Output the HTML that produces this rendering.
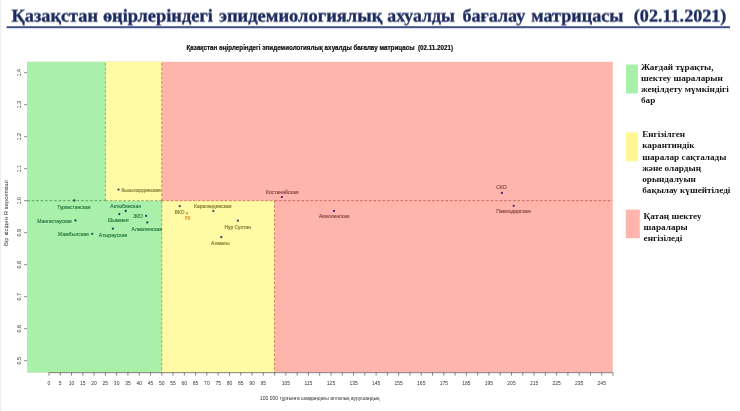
<!DOCTYPE html>
<html lang="kk"><head><meta charset="utf-8"><title>Матрица</title>
<style>
html,body{margin:0;padding:0;background:#fff;}
body{width:740px;height:411px;overflow:hidden;position:relative;font-family:"Liberation Sans",sans-serif;}
svg{position:absolute;left:0;top:0;display:block;filter:blur(0.35px)}
.ttl{font-family:"Liberation Serif",serif;font-weight:bold;font-size:17.9px;text-rendering:geometricPrecision;fill:#1b2a5e;stroke:#1b2a5e;stroke-width:0.35px}
.sub{font-family:"Liberation Sans",sans-serif;font-weight:bold;font-size:6.3px;fill:#0c0c0c;stroke:#0c0c0c;stroke-width:0.18px}
.lg{font-family:"Liberation Serif",serif;font-weight:bold;font-size:9.2px;fill:#151515}
.ax{font-family:"Liberation Sans",sans-serif;font-size:5px;fill:#333}
.lb{font-family:"Liberation Sans",sans-serif;font-size:5px;fill:rgba(40,40,40,0.62);stroke-width:0.18px}
.tk{stroke:#555;stroke-width:0.7;fill:none}
.ds{stroke:rgba(140,50,10,0.55);stroke-width:1;stroke-dasharray:2.6 1.9;fill:none}
</style></head><body>
<svg width="740" height="411" viewBox="0 0 740 411">
<rect x="0" y="0" width="740" height="411" fill="#ffffff"/>
<rect x="0" y="0" width="1.2" height="411" fill="#eef0f4"/>
<filter id="sh" x="-1%" y="-40%" width="102%" height="180%"><feConvolveMatrix order="1 3" kernelMatrix="0 0.45 0.55" divisor="1" edgeMode="none" preserveAlpha="false"/></filter>
<text class="ttl" y="21.0" filter="url(#sh)"><tspan x="11.6" textLength="86.4" lengthAdjust="spacingAndGlyphs">Қазақстан</tspan> <tspan x="102.9" textLength="110.0" lengthAdjust="spacingAndGlyphs">өңірлеріндегі</tspan> <tspan x="218.9" textLength="163.5" lengthAdjust="spacingAndGlyphs">эпидемиологиялық</tspan> <tspan x="387.3" textLength="67.5" lengthAdjust="spacingAndGlyphs">ахуалды</tspan> <tspan x="462.4" textLength="62.9" lengthAdjust="spacingAndGlyphs">бағалау</tspan> <tspan x="531.3" textLength="92.1" lengthAdjust="spacingAndGlyphs">матрицасы</tspan> <tspan x="633.8" textLength="92.6" lengthAdjust="spacingAndGlyphs">(02.11.2021)</tspan></text>
<rect x="6.6" y="26.2" width="723.4" height="2" fill="#3f5288"/>
<text class="sub" transform="translate(186.5 49.6) scale(1 1.07)" textLength="266.5" lengthAdjust="spacingAndGlyphs" xml:space="preserve">Қазақстан өңірлеріндегі эпидемиологиялық ахуалды бағалау матрицасы  (02.11.2021)</text>
<rect x="27.1" y="61.8" width="585.60" height="310.70" fill="#ffb4ac"/>
<rect x="27.1" y="61.8" width="134.66" height="310.70" fill="#a9f1ab"/>
<rect x="105.36" y="61.8" width="56.41" height="138.90" fill="#fffaa4"/>
<rect x="161.76" y="200.7" width="112.81" height="171.80" fill="#fffaa4"/>
<line class="ds" style="stroke:#58a35e" x1="27.10" y1="200.70" x2="105.36" y2="200.70"/>
<line class="ds" style="stroke:#a0a660" x1="105.36" y1="200.70" x2="161.76" y2="200.70"/>
<line class="ds" style="stroke:#d27c62" x1="161.76" y1="200.70" x2="274.58" y2="200.70"/>
<line class="ds" style="stroke:#cb6a5f" x1="274.58" y1="200.70" x2="612.70" y2="200.70"/>
<line class="ds" style="stroke:#a0a660" x1="105.36" y1="200.70" x2="105.36" y2="61.80"/>
<line class="ds" style="stroke:#d27c62" x1="161.76" y1="200.70" x2="161.76" y2="61.80"/>
<line class="ds" style="stroke:#a0a660" x1="161.76" y1="200.70" x2="161.76" y2="372.50"/>
<line class="ds" style="stroke:#d27c62" x1="274.58" y1="200.70" x2="274.58" y2="372.50"/>
<line class="tk" x1="27.0" y1="72.70" x2="27.0" y2="360.70" stroke-opacity="0"/>
<line class="tk" x1="24.10" y1="360.70" x2="27.10" y2="360.70"/>
<text class="ax" text-anchor="middle" transform="translate(21.0 360.70) rotate(-90) scale(1.1 1)">0.5</text>
<line class="tk" x1="24.10" y1="328.70" x2="27.10" y2="328.70"/>
<text class="ax" text-anchor="middle" transform="translate(21.0 328.70) rotate(-90) scale(1.1 1)">0.6</text>
<line class="tk" x1="24.10" y1="296.70" x2="27.10" y2="296.70"/>
<text class="ax" text-anchor="middle" transform="translate(21.0 296.70) rotate(-90) scale(1.1 1)">0.7</text>
<line class="tk" x1="24.10" y1="264.70" x2="27.10" y2="264.70"/>
<text class="ax" text-anchor="middle" transform="translate(21.0 264.70) rotate(-90) scale(1.1 1)">0.8</text>
<line class="tk" x1="24.10" y1="232.70" x2="27.10" y2="232.70"/>
<text class="ax" text-anchor="middle" transform="translate(21.0 232.70) rotate(-90) scale(1.1 1)">0.9</text>
<line class="tk" x1="24.10" y1="200.70" x2="27.10" y2="200.70"/>
<text class="ax" text-anchor="middle" transform="translate(21.0 200.70) rotate(-90) scale(1.1 1)">1.0</text>
<line class="tk" x1="24.10" y1="168.70" x2="27.10" y2="168.70"/>
<text class="ax" text-anchor="middle" transform="translate(21.0 168.70) rotate(-90) scale(1.1 1)">1.1</text>
<line class="tk" x1="24.10" y1="136.70" x2="27.10" y2="136.70"/>
<text class="ax" text-anchor="middle" transform="translate(21.0 136.70) rotate(-90) scale(1.1 1)">1.2</text>
<line class="tk" x1="24.10" y1="104.70" x2="27.10" y2="104.70"/>
<text class="ax" text-anchor="middle" transform="translate(21.0 104.70) rotate(-90) scale(1.1 1)">1.3</text>
<line class="tk" x1="24.10" y1="72.70" x2="27.10" y2="72.70"/>
<text class="ax" text-anchor="middle" transform="translate(21.0 72.70) rotate(-90) scale(1.1 1)">1.4</text>
<text class="ax" style="font-size:5.6px" textLength="65.5" lengthAdjust="spacingAndGlyphs" transform="translate(7.9 246) rotate(-90)">Бір кісіден R көрсеткіші</text>
<line class="tk" x1="48.95" y1="372.7" x2="613.03" y2="372.7"/>
<line class="tk" x1="48.95" y1="372.5" x2="48.95" y2="375.7"/>
<line class="tk" x1="60.23" y1="372.5" x2="60.23" y2="375.7"/>
<line class="tk" x1="71.51" y1="372.5" x2="71.51" y2="375.7"/>
<line class="tk" x1="82.79" y1="372.5" x2="82.79" y2="375.7"/>
<line class="tk" x1="94.08" y1="372.5" x2="94.08" y2="375.7"/>
<line class="tk" x1="105.36" y1="372.5" x2="105.36" y2="375.7"/>
<line class="tk" x1="116.64" y1="372.5" x2="116.64" y2="375.7"/>
<line class="tk" x1="127.92" y1="372.5" x2="127.92" y2="375.7"/>
<line class="tk" x1="139.20" y1="372.5" x2="139.20" y2="375.7"/>
<line class="tk" x1="150.48" y1="372.5" x2="150.48" y2="375.7"/>
<line class="tk" x1="161.76" y1="372.5" x2="161.76" y2="375.7"/>
<line class="tk" x1="173.05" y1="372.5" x2="173.05" y2="375.7"/>
<line class="tk" x1="184.33" y1="372.5" x2="184.33" y2="375.7"/>
<line class="tk" x1="195.61" y1="372.5" x2="195.61" y2="375.7"/>
<line class="tk" x1="206.89" y1="372.5" x2="206.89" y2="375.7"/>
<line class="tk" x1="218.17" y1="372.5" x2="218.17" y2="375.7"/>
<line class="tk" x1="229.45" y1="372.5" x2="229.45" y2="375.7"/>
<line class="tk" x1="240.74" y1="372.5" x2="240.74" y2="375.7"/>
<line class="tk" x1="252.02" y1="372.5" x2="252.02" y2="375.7"/>
<line class="tk" x1="263.30" y1="372.5" x2="263.30" y2="375.7"/>
<line class="tk" x1="274.58" y1="372.5" x2="274.58" y2="375.7"/>
<line class="tk" x1="285.86" y1="372.5" x2="285.86" y2="375.7"/>
<line class="tk" x1="297.14" y1="372.5" x2="297.14" y2="375.7"/>
<line class="tk" x1="308.42" y1="372.5" x2="308.42" y2="375.7"/>
<line class="tk" x1="319.71" y1="372.5" x2="319.71" y2="375.7"/>
<line class="tk" x1="330.99" y1="372.5" x2="330.99" y2="375.7"/>
<line class="tk" x1="342.27" y1="372.5" x2="342.27" y2="375.7"/>
<line class="tk" x1="353.55" y1="372.5" x2="353.55" y2="375.7"/>
<line class="tk" x1="364.83" y1="372.5" x2="364.83" y2="375.7"/>
<line class="tk" x1="376.11" y1="372.5" x2="376.11" y2="375.7"/>
<line class="tk" x1="387.39" y1="372.5" x2="387.39" y2="375.7"/>
<line class="tk" x1="398.68" y1="372.5" x2="398.68" y2="375.7"/>
<line class="tk" x1="409.96" y1="372.5" x2="409.96" y2="375.7"/>
<line class="tk" x1="421.24" y1="372.5" x2="421.24" y2="375.7"/>
<line class="tk" x1="432.52" y1="372.5" x2="432.52" y2="375.7"/>
<line class="tk" x1="443.80" y1="372.5" x2="443.80" y2="375.7"/>
<line class="tk" x1="455.08" y1="372.5" x2="455.08" y2="375.7"/>
<line class="tk" x1="466.37" y1="372.5" x2="466.37" y2="375.7"/>
<line class="tk" x1="477.65" y1="372.5" x2="477.65" y2="375.7"/>
<line class="tk" x1="488.93" y1="372.5" x2="488.93" y2="375.7"/>
<line class="tk" x1="500.21" y1="372.5" x2="500.21" y2="375.7"/>
<line class="tk" x1="511.49" y1="372.5" x2="511.49" y2="375.7"/>
<line class="tk" x1="522.77" y1="372.5" x2="522.77" y2="375.7"/>
<line class="tk" x1="534.05" y1="372.5" x2="534.05" y2="375.7"/>
<line class="tk" x1="545.34" y1="372.5" x2="545.34" y2="375.7"/>
<line class="tk" x1="556.62" y1="372.5" x2="556.62" y2="375.7"/>
<line class="tk" x1="567.90" y1="372.5" x2="567.90" y2="375.7"/>
<line class="tk" x1="579.18" y1="372.5" x2="579.18" y2="375.7"/>
<line class="tk" x1="590.46" y1="372.5" x2="590.46" y2="375.7"/>
<line class="tk" x1="601.74" y1="372.5" x2="601.74" y2="375.7"/>
<line class="tk" x1="613.03" y1="372.5" x2="613.03" y2="375.7"/>
<text class="ax" text-anchor="middle" transform="translate(48.95 385.20) scale(1 1.1)">0</text>
<text class="ax" text-anchor="middle" transform="translate(60.23 385.20) scale(1 1.1)">5</text>
<text class="ax" text-anchor="middle" transform="translate(71.51 385.20) scale(1 1.1)">10</text>
<text class="ax" text-anchor="middle" transform="translate(82.79 385.20) scale(1 1.1)">15</text>
<text class="ax" text-anchor="middle" transform="translate(94.08 385.20) scale(1 1.1)">20</text>
<text class="ax" text-anchor="middle" transform="translate(105.36 385.20) scale(1 1.1)">25</text>
<text class="ax" text-anchor="middle" transform="translate(116.64 385.20) scale(1 1.1)">30</text>
<text class="ax" text-anchor="middle" transform="translate(127.92 385.20) scale(1 1.1)">35</text>
<text class="ax" text-anchor="middle" transform="translate(139.20 385.20) scale(1 1.1)">40</text>
<text class="ax" text-anchor="middle" transform="translate(150.48 385.20) scale(1 1.1)">45</text>
<text class="ax" text-anchor="middle" transform="translate(161.76 385.20) scale(1 1.1)">50</text>
<text class="ax" text-anchor="middle" transform="translate(173.05 385.20) scale(1 1.1)">55</text>
<text class="ax" text-anchor="middle" transform="translate(184.33 385.20) scale(1 1.1)">60</text>
<text class="ax" text-anchor="middle" transform="translate(195.61 385.20) scale(1 1.1)">65</text>
<text class="ax" text-anchor="middle" transform="translate(206.89 385.20) scale(1 1.1)">70</text>
<text class="ax" text-anchor="middle" transform="translate(218.17 385.20) scale(1 1.1)">75</text>
<text class="ax" text-anchor="middle" transform="translate(229.45 385.20) scale(1 1.1)">80</text>
<text class="ax" text-anchor="middle" transform="translate(240.74 385.20) scale(1 1.1)">85</text>
<text class="ax" text-anchor="middle" transform="translate(252.02 385.20) scale(1 1.1)">90</text>
<text class="ax" text-anchor="middle" transform="translate(263.30 385.20) scale(1 1.1)">95</text>
<text class="ax" text-anchor="middle" transform="translate(285.86 385.20) scale(1 1.1)">105</text>
<text class="ax" text-anchor="middle" transform="translate(308.42 385.20) scale(1 1.1)">115</text>
<text class="ax" text-anchor="middle" transform="translate(330.99 385.20) scale(1 1.1)">125</text>
<text class="ax" text-anchor="middle" transform="translate(353.55 385.20) scale(1 1.1)">135</text>
<text class="ax" text-anchor="middle" transform="translate(376.11 385.20) scale(1 1.1)">145</text>
<text class="ax" text-anchor="middle" transform="translate(398.68 385.20) scale(1 1.1)">155</text>
<text class="ax" text-anchor="middle" transform="translate(421.24 385.20) scale(1 1.1)">165</text>
<text class="ax" text-anchor="middle" transform="translate(443.80 385.20) scale(1 1.1)">175</text>
<text class="ax" text-anchor="middle" transform="translate(466.37 385.20) scale(1 1.1)">185</text>
<text class="ax" text-anchor="middle" transform="translate(488.93 385.20) scale(1 1.1)">195</text>
<text class="ax" text-anchor="middle" transform="translate(511.49 385.20) scale(1 1.1)">205</text>
<text class="ax" text-anchor="middle" transform="translate(534.05 385.20) scale(1 1.1)">215</text>
<text class="ax" text-anchor="middle" transform="translate(556.62 385.20) scale(1 1.1)">225</text>
<text class="ax" text-anchor="middle" transform="translate(579.18 385.20) scale(1 1.1)">235</text>
<text class="ax" text-anchor="middle" transform="translate(601.74 385.20) scale(1 1.1)">245</text>
<text class="ax" text-anchor="middle" transform="translate(319.7 400.2) scale(1 1.1)">100 000 тұрғынға шаққандағы апталық аурушаңдық</text>
<circle cx="74.3" cy="200.5" r="1.15" fill="#1c4a66"/>
<text class="lb" style="fill:#2f7f48;stroke:#2f7f48" transform="translate(57.20 208.90) scale(1 1.1)" textLength="33.2" lengthAdjust="spacingAndGlyphs">Туркестанская</text>
<circle cx="75.5" cy="220.5" r="1.15" fill="#1c4a66"/>
<text class="lb" style="fill:#2f7f48;stroke:#2f7f48" transform="translate(37.20 222.50) scale(1 1.1)" textLength="34.5" lengthAdjust="spacingAndGlyphs">Мангистауская</text>
<circle cx="92.2" cy="233.8" r="1.15" fill="#1c4a66"/>
<text class="lb" style="fill:#2f7f48;stroke:#2f7f48" transform="translate(57.80 235.80) scale(1 1.1)" textLength="31.0" lengthAdjust="spacingAndGlyphs">Жамбылская</text>
<circle cx="118.5" cy="189.6" r="1.15" fill="#3a4270"/>
<text class="lb" style="fill:#88823c;stroke:#88823c" transform="translate(121.40 191.60) scale(1 1.1)" textLength="39.2" lengthAdjust="spacingAndGlyphs">Кызылординская</text>
<circle cx="125.7" cy="211.0" r="1.15" fill="#1c4a66"/>
<text class="lb" style="fill:#2f7f48;stroke:#2f7f48" transform="translate(110.30 208.20) scale(1 1.1)" textLength="30.7" lengthAdjust="spacingAndGlyphs">Актюбинская</text>
<circle cx="119.3" cy="214.1" r="1.15" fill="#1c4a66"/>
<text class="lb" style="fill:#2f7f48;stroke:#2f7f48" transform="translate(107.80 222.10) scale(1 1.1)" textLength="21.3" lengthAdjust="spacingAndGlyphs">Шымкент</text>
<circle cx="146.1" cy="215.9" r="1.15" fill="#1c4a66"/>
<text class="lb" style="fill:#2f7f48;stroke:#2f7f48" transform="translate(133.30 217.90) scale(1 1.1)" textLength="9.6" lengthAdjust="spacingAndGlyphs">ЗКО</text>
<circle cx="147.3" cy="222.4" r="1.15" fill="#1c4a66"/>
<text class="lb" style="fill:#2f7f48;stroke:#2f7f48" transform="translate(131.60 230.70) scale(1 1.1)" textLength="30.7" lengthAdjust="spacingAndGlyphs">Алматинская</text>
<circle cx="112.9" cy="228.7" r="1.15" fill="#1c4a66"/>
<text class="lb" style="fill:#2f7f48;stroke:#2f7f48" transform="translate(98.80 236.60) scale(1 1.1)" textLength="28.6" lengthAdjust="spacingAndGlyphs">Атырауская</text>
<circle cx="179.7" cy="206.2" r="1.15" fill="#3a4270"/>
<text class="lb" style="fill:#88823c;stroke:#88823c" transform="translate(174.70 213.60) scale(1 1.1)" textLength="9.7" lengthAdjust="spacingAndGlyphs">ВКО</text>
<circle cx="187.0" cy="213.3" r="1.15" fill="#f08a24"/>
<text class="lb" style="fill:#f08a24;stroke:#f08a24" transform="translate(184.80 220.40) scale(1 1.1)" textLength="5.6" lengthAdjust="spacingAndGlyphs">РК</text>
<circle cx="213.3" cy="211.1" r="1.15" fill="#3a4270"/>
<text class="lb" style="fill:#88823c;stroke:#88823c" transform="translate(194.10 208.20) scale(1 1.1)" textLength="37.5" lengthAdjust="spacingAndGlyphs">Карагандинская</text>
<circle cx="237.9" cy="220.7" r="1.15" fill="#3a4270"/>
<text class="lb" style="fill:#88823c;stroke:#88823c" transform="translate(224.40 229.00) scale(1 1.1)" textLength="26.7" lengthAdjust="spacingAndGlyphs">Нур Султан</text>
<circle cx="221.3" cy="237.2" r="1.15" fill="#3a4270"/>
<text class="lb" style="fill:#88823c;stroke:#88823c" transform="translate(211.10 245.10) scale(1 1.1)" textLength="18.7" lengthAdjust="spacingAndGlyphs">Алматы</text>
<circle cx="281.9" cy="197.1" r="1.15" fill="#45268a"/>
<text class="lb" style="fill:#954c4a;stroke:#954c4a" transform="translate(265.70 193.70) scale(1 1.1)" textLength="32.9" lengthAdjust="spacingAndGlyphs">Костанайская</text>
<circle cx="334.0" cy="210.9" r="1.15" fill="#45268a"/>
<text class="lb" style="fill:#954c4a;stroke:#954c4a" transform="translate(319.00 218.40) scale(1 1.1)" textLength="30.4" lengthAdjust="spacingAndGlyphs">Акмолинская</text>
<circle cx="501.9" cy="192.9" r="1.15" fill="#45268a"/>
<text class="lb" style="fill:#954c4a;stroke:#954c4a" transform="translate(496.30 189.40) scale(1 1.1)" textLength="10.5" lengthAdjust="spacingAndGlyphs">СКО</text>
<circle cx="513.7" cy="205.8" r="1.15" fill="#45268a"/>
<text class="lb" style="fill:#954c4a;stroke:#954c4a" transform="translate(496.30 213.30) scale(1 1.1)" textLength="34.4" lengthAdjust="spacingAndGlyphs">Павлодарская</text>
<rect x="626.0" y="64.5" width="11.9" height="29" fill="#a9f1ab"/>
<rect x="625.9" y="132.5" width="12.2" height="28.8" fill="#fff796"/>
<rect x="625.8" y="209.6" width="14" height="28.6" fill="#ffb4ac"/>
<text class="lg" x="641.0" y="69.60">Жағдай тұрақты,</text>
<text class="lg" x="641.0" y="80.80">шектеу шараларын</text>
<text class="lg" x="641.0" y="92.00">жеңілдету мүмкіндігі</text>
<text class="lg" x="641.0" y="103.20">бар</text>
<text class="lg" x="642.2" y="137.10">Енгізілген</text>
<text class="lg" x="642.2" y="148.30">карантиндік</text>
<text class="lg" x="642.2" y="159.50">шаралар сақталады</text>
<text class="lg" x="642.2" y="170.70">және олардың</text>
<text class="lg" x="642.2" y="181.90">орындалуын</text>
<text class="lg" x="642.2" y="193.10">бақылау күшейтіледі</text>
<text class="lg" x="643.6" y="218.80">Қатаң шектеу</text>
<text class="lg" x="643.6" y="230.00">шаралары</text>
<text class="lg" x="643.6" y="241.20">енгізіледі</text>
</svg>
</body></html>
